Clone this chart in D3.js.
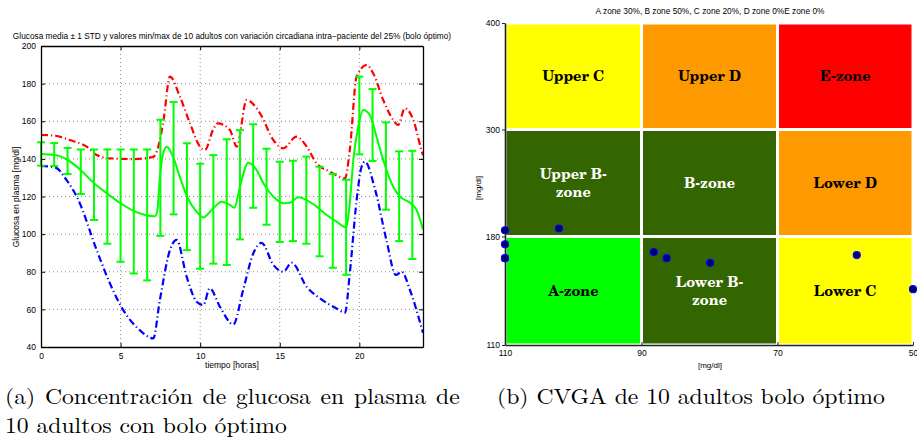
<!DOCTYPE html>
<html><head><meta charset="utf-8">
<script src="https://cdn.jsdelivr.net/npm/d3@7"></script>
<style>body{margin:0;background:#fff}svg{display:block}
.cap{font-family:"Latin Modern Roman","Liberation Serif",serif}
.zone{font-family:"TeX Gyre Schola","C059","Century Schoolbook L","DejaVu Serif",serif;font-weight:bold}
.sans{font-family:"Liberation Sans",Arial,Helvetica,sans-serif}
</style>
</head><body>
<svg id="fig" width="917" height="443"></svg>
<script>
// ---- (a) glucose profile over 24 h ----
const meanT = [0,0.88,1.6,2.5,3.3,4.2,5.0,5.8,6.5,7.15,7.3,7.47,7.65,7.9,8.3,8.7,9.15,9.78,10.2,10.82,11.35,11.87,12.15,12.5,13.02,13.55,13.97,14.6,15.22,15.64,16.16,16.69,17.32,17.95,18.57,19.16,19.4,19.62,19.93,20.25,20.66,21.08,21.5,22.13,22.55,23.18,23.6,24];
const meanV = [142.6,142.1,139.8,134,127.3,121.3,116.4,112.4,110.3,109.5,112,130,142,146.5,141,131,120.5,111.9,108.9,113.7,117.2,115.5,114,125.2,138,134,127,119.9,116.4,116.7,119.6,118.1,114.6,110.2,106.6,103.6,116.4,139.4,157.1,166,163.3,151.8,139.4,125.2,119.9,116.7,112.8,102.5];

const maxT = [0,0.88,1.8,2.87,3.5,4.33,5.8,7.05,7.37,7.7,8.1,8.73,9.36,9.99,10.3,10.8,11.1,11.87,12.3,12.92,13.76,14.6,15.22,16.06,16.69,17.32,18.15,19.1,19.4,19.83,20.46,20.87,21.5,22.13,22.44,22.86,23.39,23.9,24];
const maxV = [152.7,152.3,150,146.5,142,140.3,139.9,141.1,146.5,160.7,183.7,173,158.9,146.5,144.7,155.3,158.9,155.3,146.5,171.3,164.2,150,145.6,151.8,146.5,137.6,133.2,129.7,144.7,183.7,189.9,185.5,171.3,160.7,158,166.9,160.7,144.7,142];

const minT = [0,0.88,1.6,2.3,3.5,4.33,5.17,6.2,7.05,7.47,8.1,8.52,9.15,9.78,10.2,10.6,11.24,12.08,12.7,13.34,13.86,14.6,15.22,15.75,16.69,17.52,18.57,19.1,19.4,19.83,20.14,20.35,21.0,21.7,22.3,22.66,23.18,23.95,24];
const minV = [136.2,135.5,128.8,119,91.5,73.8,59.6,49,44.6,65,91.5,96.9,77.4,64.1,62.3,71.2,61.4,52,70.3,89.8,95.4,83.6,80,84.8,72,65.9,60.5,58.2,79.1,118.1,135.8,138.5,123.4,96.9,78.3,80,70.3,49,47.5];

// mean +/- 1 STD, sampled every 50 minutes
const barT = [0,0.83,1.67,2.5,3.33,4.17,5,5.83,6.67,7.5,8.33,9.17,10,10.83,11.67,12.5,13.33,14.17,15,15.83,16.67,17.5,18.33,19.17,20,20.83,21.67,22.5,23.33];
const barHigh = [148.8,148.4,145.8,145,145,145,145,145,145,160.8,170.2,148.3,137.4,142,150.4,155.3,158.4,145.4,138.5,139,141.2,135.8,132,128.9,183.7,177.1,159.4,144,144.3];
const barLow = [136.4,136.2,132,121.3,107.5,94.9,85.3,79.1,75.4,99.1,110.5,91.5,81.6,84.3,83.6,97.2,114,105,95.8,96.3,94.9,88.2,82.1,78.4,142.4,138.9,113,96.3,86.8];

const xTicksA = [0,5,10,15,20];
const yTicksA = [40,60,80,100,120,140,160,180,200];

// ---- (b) CVGA ----
const cvgaXBreaks = [110,90,70,50];     // minimum BG
const cvgaYBreaks = [110,180,300,400];  // maximum BG
const zoneNames = [
  ["A-zone","Lower B-\nzone","Lower C"],
  ["Upper B-\nzone","B-zone","Lower D"],
  ["Upper C","Upper D","E-zone"]
];
const zoneColors = [
  ["#00ff00","#336600","#ffff00"],
  ["#336600","#336600","#ff9900"],
  ["#ffff00","#ff9900","#ff0000"]
];
const zoneTextColors = [
  ["#000","#fff","#000"],
  ["#fff","#fff","#000"],
  ["#000","#000","#000"]
];
const subjMin = [110,110,110,110,102.1,88.2,86.3,79.9,58.3,50];
const subjMax = [187,175,166,166,189,170,166,163,168,146];

const svg = d3.select("#fig");
svg.append("rect").attr("width",917).attr("height",443).attr("fill","#fff");

// ================= panel (a) =================
const xA = d3.scaleLinear().domain([0,24]).range([41,423]);
const yA = d3.scaleLinear().domain([40,200]).range([347,46]);
const gA = svg.append("g");

// dotted grid
gA.selectAll("line.gx").data(xTicksA.slice(1)).join("line")
  .attr("x1",d=>xA(d)).attr("x2",d=>xA(d)).attr("y1",yA(40)).attr("y2",yA(200))
  .attr("stroke","#888").attr("stroke-width",1).attr("stroke-dasharray","1,3");
gA.selectAll("line.gy").data(yTicksA.slice(1,-1)).join("line")
  .attr("x1",xA(0)).attr("x2",xA(24)).attr("y1",d=>yA(d)).attr("y2",d=>yA(d))
  .attr("stroke","#888").attr("stroke-width",1).attr("stroke-dasharray","1,3");

const lineA = (T,V) => d3.line().x((d,i)=>xA(T[i])).y(d=>yA(d)).curve(d3.curveMonotoneX)(V);

// max / min envelopes
gA.append("path").attr("d",lineA(maxT,maxV)).attr("fill","none")
  .attr("stroke","#ff0000").attr("stroke-width",2.2).attr("stroke-dasharray","7,3,1.2,3");
gA.append("path").attr("d",lineA(minT,minV)).attr("fill","none")
  .attr("stroke","#0000ff").attr("stroke-width",2.2).attr("stroke-dasharray","7,3,1.2,3");

// error bars
const bars = gA.append("g").attr("stroke","#00ff00").attr("stroke-width",2);
barT.forEach((t,i)=>{
  const x = xA(t);
  bars.append("line").attr("x1",x).attr("x2",x).attr("y1",yA(barLow[i])).attr("y2",yA(barHigh[i]));
  bars.append("line").attr("x1",x-4).attr("x2",x+4).attr("y1",yA(barLow[i])).attr("y2",yA(barLow[i]));
  bars.append("line").attr("x1",x-4).attr("x2",x+4).attr("y1",yA(barHigh[i])).attr("y2",yA(barHigh[i]));
});

// mean
gA.append("path").attr("d",lineA(meanT,meanV)).attr("fill","none")
  .attr("stroke","#00ff00").attr("stroke-width",2);

// axes (ticks pointing inward on all four sides)
gA.append("g").attr("transform",`translate(0,${yA(40)})`)
  .call(d3.axisBottom(xA).tickValues(xTicksA).tickSizeInner(-4).tickSizeOuter(0).tickPadding(6));
gA.append("g").attr("transform",`translate(${xA(0)},0)`)
  .call(d3.axisLeft(yA).tickValues(yTicksA).tickSizeInner(-4).tickSizeOuter(0).tickPadding(5));
gA.append("g").attr("transform",`translate(0,${yA(200)})`)
  .call(d3.axisTop(xA).tickValues(xTicksA).tickSizeInner(-4).tickSizeOuter(0).tickFormat(""));
gA.append("g").attr("transform",`translate(${xA(24)},0)`)
  .call(d3.axisRight(yA).tickValues(yTicksA).tickSizeInner(-4).tickSizeOuter(0).tickFormat(""));
gA.selectAll(".domain").attr("stroke","#000").attr("stroke-width",1.3);
gA.selectAll(".tick line").attr("stroke","#000");
gA.selectAll(".tick text").attr("class","sans").attr("font-size",8.5).attr("fill","#000");

gA.append("text").attr("class","sans").attr("x",232).attr("y",39).attr("text-anchor","middle")
  .attr("font-size",8.3)
  .text("Glucosa media \u00b1 1 STD y valores min/max de 10 adultos con variaci\u00f3n circadiana intra\u2212paciente del 25% (bolo \u00f3ptimo)");
gA.append("text").attr("class","sans").attr("x",232).attr("y",368).attr("text-anchor","middle")
  .attr("font-size",8.5).text("tiempo [horas]");
gA.append("text").attr("class","sans").attr("transform","translate(19,197) rotate(-90)").attr("text-anchor","middle")
  .attr("font-size",8.5).text("Glucosa en plasma [mg/dl]");

// ================= panel (b) =================
const xB = d3.scaleLinear().domain(cvgaXBreaks).range([505,641.5,777.5,913]).clamp(true);
const yB = d3.scaleLinear().domain(cvgaYBreaks).range([345,236.5,129.5,23]).clamp(true);
const gB = svg.append("g");

for (let r=0;r<3;r++){
  for (let c=0;c<3;c++){
    const x0 = xB(cvgaXBreaks[c]), x1 = xB(cvgaXBreaks[c+1]);
    const y0 = yB(cvgaYBreaks[r+1]), y1 = yB(cvgaYBreaks[r]);
    gB.append("rect").attr("x",x0).attr("y",y0).attr("width",x1-x0).attr("height",y1-y0)
      .attr("fill",zoneColors[r][c]).attr("stroke","#fff").attr("stroke-width",3);
    const lines = zoneNames[r][c].split("\n");
    const cx = (x0+x1)/2, cy = (y0+y1)/2;
    lines.forEach((s,k)=>{
      gB.append("text").attr("class","zone").attr("text-anchor","middle")
        .attr("font-size",14.5).attr("fill",zoneTextColors[r][c])
        .attr("x",cx).attr("y",cy+5+(k-(lines.length-1)/2)*17.5).text(s);
    });
  }
}

// axes
gB.append("g").attr("transform",`translate(0,${yB(110)})`)
  .call(d3.axisBottom(xB).tickValues(cvgaXBreaks).tickSizeInner(-3).tickSizeOuter(0).tickPadding(5));
gB.append("g").attr("transform",`translate(${xB(110)},0)`)
  .call(d3.axisLeft(yB).tickValues(cvgaYBreaks).tickSizeInner(3).tickSizeOuter(0).tickPadding(2));
gB.selectAll(".domain").attr("stroke","#222").attr("stroke-width",1.6);
gB.selectAll(".tick line").attr("stroke","#222");
gB.selectAll(".tick text").attr("class","sans").attr("font-size",8.5).attr("fill","#000");

// subjects
gB.selectAll("circle").data(subjMin).join("circle")
  .attr("cx",d=>xB(d)).attr("cy",(d,i)=>yB(subjMax[i])).attr("r",3.5)
  .attr("fill","#000066").attr("stroke","#0000ff").attr("stroke-width",1.2);

gB.append("text").attr("class","sans").attr("x",710).attr("y",14).attr("text-anchor","middle")
  .attr("font-size",8.3)
  .text("A zone 30%, B zone 50%, C zone 20%, D zone 0%E zone 0%");
gB.append("text").attr("class","sans").attr("x",710).attr("y",368).attr("text-anchor","middle")
  .attr("font-size",8).text("[mg/dl]");
gB.append("text").attr("class","sans").attr("transform","translate(481,188) rotate(-90)").attr("text-anchor","middle")
  .attr("font-size",8).text("[mg/dl]");

// ================= captions =================
const cap = (str) => svg.append("text").attr("class","cap").attr("font-size",22).text(str);
const capB = cap("(b) CVGA de 10 adultos bolo \u00f3ptimo");
const sx = 388 / capB.node().getComputedTextLength();
capB.attr("transform",`translate(497,404) scale(${sx},1)`);
const capA1 = cap("(a) Concentraci\u00f3n de glucosa en plasma de");
const extra = 455 / sx - capA1.node().getComputedTextLength();
if (extra > 0) capA1.attr("word-spacing", extra / 6);
else capA1.attr("textLength", 455 / sx).attr("lengthAdjust","spacingAndGlyphs");
capA1.attr("transform",`translate(5,404) scale(${sx},1)`);
cap("10 adultos con bolo \u00f3ptimo").attr("transform",`translate(5,433) scale(${sx},1)`);
</script>
</body></html>
